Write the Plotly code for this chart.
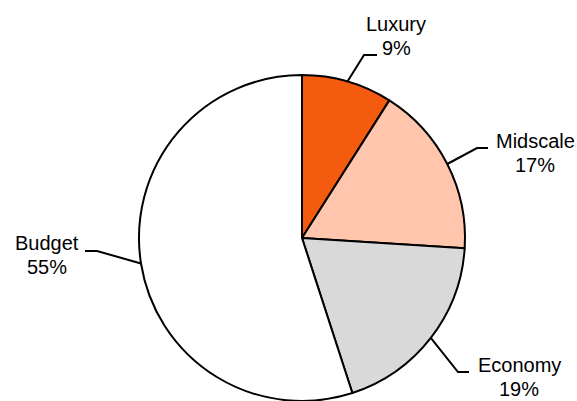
import math
import plotly.graph_objects as go

categories = ["Luxury", "Midscale", "Economy", "Budget"]
shares = [9, 17, 19, 55]
colors = ["#F55B0E", "#FFC6AD", "#D9D9D9", "#FFFFFF"]

W, H = 577, 401
CX, CY_TOP, R = 302, 238, 163  # pie centre (px from left/top) and radius

# label layout: text centre x, y of first and second line, elbow point, line end (px)
label_pos = {
    "Luxury": dict(tx=396, ty=(24, 48), elbow=(364, 55), end=(377, 55)),
    "Midscale": dict(tx=535, ty=(141, 165), elbow=(477, 148), end=(488, 148)),
    "Economy": dict(tx=519, ty=(365, 389), elbow=(458, 372), end=(469, 372)),
    "Budget": dict(tx=47, ty=(243, 267), elbow=(97, 251), end=(85, 251)),
}

fig = go.Figure()
fig.add_trace(go.Pie(
    labels=categories, values=shares, sort=False, direction="clockwise",
    rotation=0, marker=dict(colors=colors, line=dict(color="#000000", width=2)),
    textinfo="none", hoverinfo="label+percent", showlegend=False,
    domain=dict(x=[(CX - 220) / W, (CX + 220) / W], y=[0, 2 * R / H]),
))

def px(x, y):
    return x / W, 1 - y / H

total = sum(shares)
cum = 0
shapes, annos = [], []
font = dict(family="Liberation Sans, Arial", size=20, color="#000000")
for cat, v in zip(categories, shares):
    mid = (cum + v / 2) / total * 2 * math.pi
    cum += v
    ex = CX + R * math.sin(mid)
    ey = CY_TOP - R * math.cos(mid)
    lp = label_pos[cat]
    pts = [px(ex, ey), px(*lp["elbow"]), px(*lp["end"])]
    path = "M {} {} L {} {} L {} {}".format(*[c for p in pts for c in p])
    shapes.append(dict(type="path", xref="paper", yref="paper", path=path,
                       line=dict(color="#000000", width=2)))
    for txt, yy in zip([cat, f"{round(v / total * 100)}%"], lp["ty"]):
        tx, ty = px(lp["tx"], yy)
        annos.append(dict(xref="paper", yref="paper", x=tx, y=ty, showarrow=False,
                          xanchor="center", yanchor="middle", text=txt, font=font))

fig.update_layout(
    width=W, height=H, margin=dict(l=0, r=0, t=0, b=0),
    paper_bgcolor="#FFFFFF", plot_bgcolor="#FFFFFF",
    shapes=shapes, annotations=annos,
)
fig.write_html("out.html")
